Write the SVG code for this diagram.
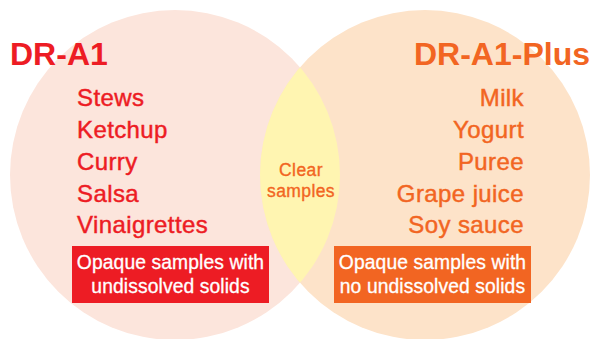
<svg xmlns="http://www.w3.org/2000/svg" width="592" height="339" viewBox="0 0 592 339">
<defs>
<style>
.t{font-family:"Liberation Sans",Arial,Helvetica,sans-serif}
.title{font-size:32px;font-weight:bold}
.item{font-size:24px;stroke-width:0.45;letter-spacing:0.4px}
.red{fill:#ED1C24}
.redS{stroke:#ED1C24}
.org{fill:#F26522}
.orgS{stroke:#F26522}
.box{font-size:19.3px;fill:#FFFFFF;text-anchor:middle;stroke:#FFFFFF;stroke-width:0.3;letter-spacing:0.1px}
.mid{font-size:17.5px;stroke-width:0.35;text-anchor:middle;letter-spacing:0.4px}
</style>
<clipPath id="clipL"><circle cx="175" cy="175" r="165"/></clipPath>
</defs>
<rect width="592" height="339" fill="#FFFFFF"/>
<g id="circle-dr-a1">
<circle cx="175" cy="175" r="165" fill="#FCE5DC"/>
</g>
<g id="circle-dr-a1-plus">
<circle cx="425" cy="175" r="165" fill="#FDE3C9"/>
</g>
<g id="overlap">
<circle cx="425" cy="175" r="165" fill="#FFF5B1" clip-path="url(#clipL)"/>
<text class="t mid org orgS" x="301" y="176">Clear</text>
<text class="t mid org orgS" x="301" y="197">samples</text>
</g>
<g id="label-dr-a1">
<text class="t title red" x="10" y="65">DR-A1</text>
</g>
<g id="label-dr-a1-plus">
<text class="t title org" x="590" y="65" text-anchor="end">DR-A1-Plus</text>
</g>
<g id="list-dr-a1">
<text class="t item red redS" x="77" y="106">Stews</text>
<text class="t item red redS" x="77" y="138">Ketchup</text>
<text class="t item red redS" x="77" y="170">Curry</text>
<text class="t item red redS" x="77" y="202">Salsa</text>
<text class="t item red redS" x="77" y="233">Vinaigrettes</text>
</g>
<g id="list-dr-a1-plus">
<text class="t item org orgS" x="524" y="106" text-anchor="end">Milk</text>
<text class="t item org orgS" x="524" y="138" text-anchor="end">Yogurt</text>
<text class="t item org orgS" x="524" y="170" text-anchor="end">Puree</text>
<text class="t item org orgS" x="524" y="202" text-anchor="end">Grape juice</text>
<text class="t item org orgS" x="524" y="233" text-anchor="end">Soy sauce</text>
</g>
<g id="box-dr-a1">
<rect x="72" y="246" width="197" height="57" fill="#ED1C24"/>
<text class="t box" x="170.5" y="269">Opaque samples with</text>
<text class="t box" x="170.5" y="293">undissolved solids</text>
</g>
<g id="box-dr-a1-plus">
<rect x="334" y="246" width="197" height="57" fill="#F26522"/>
<text class="t box" x="432.5" y="269">Opaque samples with</text>
<text class="t box" x="432.5" y="293">no undissolved solids</text>
</g>
</svg>
